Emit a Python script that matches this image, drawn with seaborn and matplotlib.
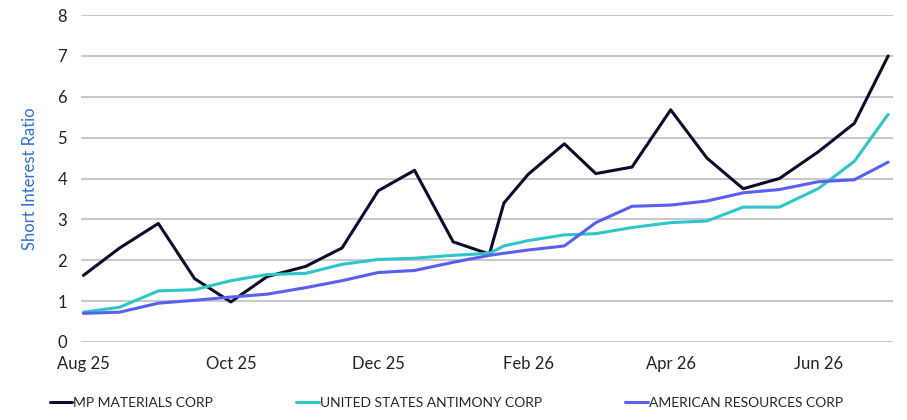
import pandas as pd
import matplotlib
matplotlib.use("Agg")
import matplotlib.pyplot as plt
import matplotlib.dates as mdates
import seaborn as sns

dates = ["2025-08-01","2025-08-16","2025-09-01","2025-09-16","2025-10-01","2025-10-16",
         "2025-11-01","2025-11-16","2025-12-01","2025-12-16","2026-01-01","2026-01-16",
         "2026-01-22","2026-02-01","2026-02-16","2026-03-01","2026-03-16","2026-04-01",
         "2026-04-16","2026-05-01","2026-05-16","2026-06-01","2026-06-16","2026-06-30"]
mp = [1.63,2.3,2.9,1.55,0.98,1.6,1.85,2.3,3.7,4.2,2.45,2.15,3.4,4.1,4.85,4.12,4.28,5.68,4.5,3.75,4.0,4.65,5.35,7.0]
usa = [0.73,0.85,1.25,1.28,1.5,1.65,1.68,1.9,2.02,2.05,2.12,2.17,2.35,2.48,2.62,2.65,2.8,2.92,2.96,3.3,3.3,3.75,4.42,5.57]
arc = [0.7,0.73,0.95,1.02,1.1,1.17,1.33,1.5,1.7,1.75,1.95,2.12,2.17,2.25,2.35,2.92,3.32,3.35,3.45,3.65,3.73,3.92,3.97,4.4]
names = ["MP MATERIALS CORP", "UNITED STATES ANTIMONY CORP", "AMERICAN RESOURCES CORP"]
colors = ["#0b0b2b", "#2ec6c8", "#5a5ff0"]

d = pd.to_datetime(dates)
df = pd.concat([pd.DataFrame({"date": d, "value": v, "series": n}) for v, n in zip([mp, usa, arc], names)])

sns.set_style("white")
plt.rcParams['font.family'] = ['Lato', 'DejaVu Sans']
fig = plt.figure(figsize=(9.07, 4.2), dpi=100)
ax = fig.add_axes([81/907, 1-342/420, (893-81)/907, (342-15)/420])
sns.lineplot(data=df, x="date", y="value", hue="series", palette=colors, linewidth=2.2, ax=ax)
ax.set_ylim(0, 8)
ax.set_xlim(pd.Timestamp("2025-07-31"), pd.Timestamp("2026-07-02"))
ax.set_yticks(range(0, 9))
ax.xaxis.set_major_locator(mdates.MonthLocator(bymonth=[2,4,6,8,10,12]))
ax.xaxis.set_major_formatter(mdates.DateFormatter("%b %y"))
ax.yaxis.grid(True, color="#c8c9cc", linewidth=1.5)
for s in ax.spines.values():
    s.set_visible(False)
ax.tick_params(axis="both", length=0, labelsize=12, colors="#222222", pad=10)
ax.set_xlabel("")
ax.set_ylabel("Short Interest Ratio", color="#2f6fd0", fontsize=12, labelpad=14)
ax.legend(loc="upper center", bbox_to_anchor=(0.45, -0.13), ncol=3, frameon=False,
          fontsize=10, handlelength=1.6, handletextpad=0.1, columnspacing=6)
fig.savefig("out.png", dpi=100)
